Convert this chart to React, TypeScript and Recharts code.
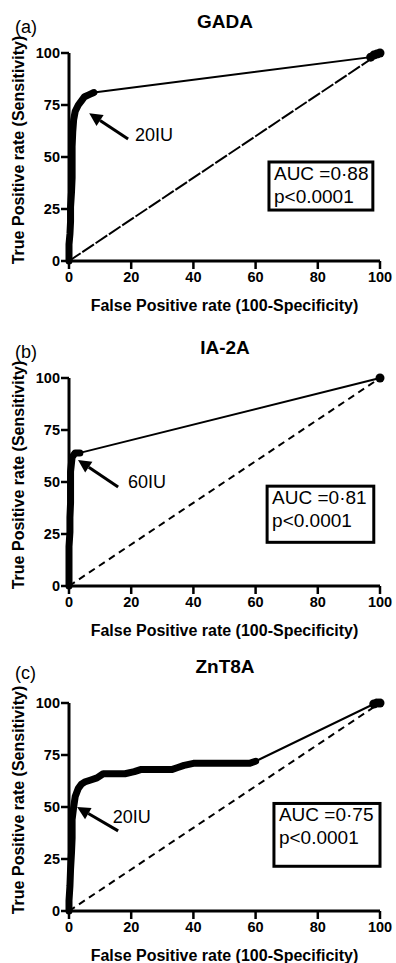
import React from "react";
import {
  ComposedChart,
  Line,
  XAxis,
  YAxis,
  Label,
  ReferenceArea,
  ReferenceLine,
  ReferenceDot,
} from "recharts";

const FONT = '"Liberation Sans", Arial, Helvetica, sans-serif';

const xTicks = [0, 20, 40, 60, 80, 100];
const yTicks = [0, 25, 50, 75, 100];
const diagFpr = [0, 100];
const diagTpr = [0, 100];

// (a) GADA
const gadaRocFpr = [0, 0, 0, 0.3, 0.5, 0.5, 0.8, 1, 1, 1, 1.2, 1.5, 2, 3, 4, 5, 6.5, 8];
const gadaRocTpr = [0, 4, 8, 13, 19, 26, 33, 40, 48, 55, 62, 68, 72, 75, 77, 79, 80, 81];
const gadaTailFpr = [8, 97, 98, 99, 100];
const gadaTailTpr = [81, 98, 99, 99.5, 100];

// (b) IA-2A
const ia2aRocFpr = [0, 0, 0, 0, 0.3, 0.3, 0.5, 0.5, 0.5, 1, 2, 3.5];
const ia2aRocTpr = [0, 6, 12, 19, 26, 33, 40, 47, 55, 62, 64, 64];
const ia2aTailFpr = [3.5, 100];
const ia2aTailTpr = [64, 100];

// (c) ZnT8A
const znt8RocFpr = [0, 0, 0.3, 0.5, 0.8, 1, 1, 1.5, 2, 3, 4, 5, 7, 9, 11, 14, 18, 21, 23, 28, 33, 35, 37, 40, 45, 50, 55, 58, 60];
const znt8RocTpr = [0, 5, 12, 20, 28, 35, 44, 50, 55, 59, 61, 62, 63, 64, 66, 66, 66, 67, 68, 68, 68, 69, 70, 71, 71, 71, 71, 71, 72];
const znt8TailFpr = [60, 98, 99, 100];
const znt8TailTpr = [72, 99.5, 100, 100];

const panelLetters = ["(a)", "(b)", "(c)"];
const panelTitles = ["GADA", "IA-2A", "ZnT8A"];
const cutoffLabels = ["20IU", "60IU", "20IU"];
const aucLabels = ["AUC =0·88", "AUC =0·81", "AUC =0·75"];
const pLabels = ["p<0.0001", "p<0.0001", "p<0.0001"];

const toPoints = (xs: number[], ys: number[]) => xs.map((x, i) => ({ x, y: ys[i] }));

const arrowShape = (p: any) => {
  const { x1, y1, x2, y2 } = p;
  const ang = Math.atan2(y2 - y1, x2 - x1);
  const len = 13;
  const half = 6.5;
  const bx = x2 - len * Math.cos(ang);
  const by = y2 - len * Math.sin(ang);
  const px = -Math.sin(ang) * half;
  const py = Math.cos(ang) * half;
  return (
    <g>
      <line x1={x1} y1={y1} x2={bx} y2={by} stroke="#000" strokeWidth={3} />
      <polygon points={`${x2},${y2} ${bx + px},${by + py} ${bx - px},${by - py}`} fill="#000" />
    </g>
  );
};

type PanelProps = {
  idx: number;
  top: number;
  height: number;
  letterY: number;
  titleY: number;
  rocFpr: number[];
  rocTpr: number[];
  tailFpr: number[];
  tailTpr: number[];
  dash: string;
  arrow: { x: number; y: number }[];
  tag: { x: number; y: number };
  box: { x1: number; x2: number; y1: number; y2: number };
};

function RocPanel({ idx, top, height, letterY, titleY, rocFpr, rocTpr, tailFpr, tailTpr, dash, arrow, tag, box }: PanelProps) {
  const roc = toPoints(rocFpr, rocTpr);
  const tail = toPoints(tailFpr, tailTpr);
  const diag = toPoints(diagFpr, diagTpr);
  const lastX = tailFpr[tailFpr.length - 1];
  // plot area: left 69, right 380, top 53, bottom 261
  const bottomMargin = height - 261 - 50;

  return (
    <div style={{ position: "absolute", left: 0, top, width: 396, height }}>
      <ComposedChart width={396} height={height} margin={{ top: 53, right: 16, bottom: bottomMargin, left: 12 }}>
        <XAxis
          type="number"
          dataKey="x"
          domain={[0, 100]}
          ticks={xTicks}
          interval={0}
          height={50}
          axisLine={{ stroke: "#000", strokeWidth: 3 }}
          tickLine={{ stroke: "#000", strokeWidth: 2.5 }}
          tickSize={8}
          tickMargin={3}
          tick={{ fill: "#000", fontSize: 14.5, fontWeight: "bold", fontFamily: FONT }}
        >
          <Label
            value="False Positive rate (100-Specificity)"
            position="insideBottom"
            offset={0}
            style={{ fill: "#000", fontSize: 16, fontWeight: "bold", fontFamily: FONT }}
          />
        </XAxis>
        <YAxis
          type="number"
          domain={[0, 100]}
          ticks={yTicks}
          interval={0}
          width={57}
          axisLine={{ stroke: "#000", strokeWidth: 3 }}
          tickLine={{ stroke: "#000", strokeWidth: 2.5 }}
          tickSize={8}
          tickMargin={1}
          tick={{ fill: "#000", fontSize: 14.5, fontWeight: "bold", fontFamily: FONT }}
        >
          <Label
            content={(p: any) => {
              const vb = p.viewBox;
              const cx = 18;
              const cy = vb.y + vb.height / 2 - 7;
              return (
                <text
                  x={cx}
                  y={cy}
                  transform={`rotate(-90, ${cx}, ${cy})`}
                  textAnchor="middle"
                  dominantBaseline="central"
                  style={{ fill: "#000", fontSize: 16, fontWeight: "bold", fontFamily: FONT }}
                >
                  True Positive rate (Sensitivity)
                </text>
              );
            }}
          />
        </YAxis>
        <Line
          data={diag}
          dataKey="y"
          stroke="#000"
          strokeWidth={2}
          strokeDasharray={dash}
          dot={false}
          isAnimationActive={false}
        />
        <Line
          data={tail}
          dataKey="y"
          stroke="#000"
          strokeWidth={2}
          dot={(d: any) =>
            d.payload.x >= lastX - 3 ? (
              <circle key={d.index} cx={d.cx} cy={d.cy} r={4.5} fill="#000" />
            ) : (
              <g key={d.index} />
            )
          }
          isAnimationActive={false}
        />
        <Line
          data={roc}
          dataKey="y"
          stroke="#000"
          strokeWidth={7}
          strokeLinejoin="round"
          strokeLinecap="round"
          dot={false}
          isAnimationActive={false}
        />
        <ReferenceLine segment={arrow} shape={arrowShape} />
        <ReferenceDot
          x={tag.x}
          y={tag.y}
          r={0}
          shape={(p: any) => (
            <text
              x={p.cx}
              y={p.cy}
              dominantBaseline="central"
              style={{ fill: "#000", fontSize: 18, fontFamily: FONT }}
            >
              {cutoffLabels[idx]}
            </text>
          )}
        />
        <ReferenceArea
          x1={box.x1}
          x2={box.x2}
          y1={box.y1}
          y2={box.y2}
          shape={(p: any) => (
            <g>
              <rect x={p.x} y={p.y} width={p.width} height={p.height} fill="#fff" stroke="#000" strokeWidth={3} />
              <text x={p.x + 5} y={p.y + 18} style={{ fill: "#000", fontSize: 19, fontFamily: FONT }}>
                {aucLabels[idx]}
              </text>
              <text x={p.x + 5} y={p.y + 41} style={{ fill: "#000", fontSize: 19, fontFamily: FONT }}>
                {pLabels[idx]}
              </text>
            </g>
          )}
        />
      </ComposedChart>
      <div
        style={{
          position: "absolute",
          left: 15,
          top: letterY - 9,
          fontFamily: FONT,
          fontSize: 18,
          lineHeight: "18px",
        }}
      >
        {panelLetters[idx]}
      </div>
      <div
        style={{
          position: "absolute",
          left: 125,
          width: 200,
          top: titleY - 10,
          textAlign: "center",
          fontFamily: FONT,
          fontSize: 19,
          fontWeight: "bold",
          lineHeight: "20px",
        }}
      >
        {panelTitles[idx]}
      </div>
    </div>
  );
}

export default function App() {
  return (
    <div style={{ position: "absolute", left: 0, top: 0, width: 396, height: 963, overflow: "hidden", background: "#fff" }}>
      <style>{`html, body { margin: 0; padding: 0; overflow: hidden; }`}</style>
      <RocPanel
        idx={0}
        top={0}
        height={318}
        letterY={27}
        titleY={22}
        rocFpr={gadaRocFpr}
        rocTpr={gadaRocTpr}
        tailFpr={gadaTailFpr}
        tailTpr={gadaTailTpr}
        dash="14 2"
        arrow={[{ x: 19, y: 58.7 }, { x: 6.5, y: 71 }]}
        tag={{ x: 21.2, y: 60.6 }}
        box={{ x1: 64.3, x2: 97.7, y1: 24.5, y2: 47.6 }}
      />
      <RocPanel
        idx={1}
        top={325}
        height={318}
        letterY={27}
        titleY={23}
        rocFpr={ia2aRocFpr}
        rocTpr={ia2aRocTpr}
        tailFpr={ia2aTailFpr}
        tailTpr={ia2aTailTpr}
        dash="7 5"
        arrow={[{ x: 15.8, y: 47.6 }, { x: 2.9, y: 60.6 }]}
        tag={{ x: 19, y: 50 }}
        box={{ x1: 63.7, x2: 98, y1: 21, y2: 48 }}
      />
      <RocPanel
        idx={2}
        top={650}
        height={313}
        letterY={23}
        titleY={17}
        rocFpr={znt8RocFpr}
        rocTpr={znt8RocTpr}
        tailFpr={znt8TailFpr}
        tailTpr={znt8TailTpr}
        dash="7 5"
        arrow={[{ x: 15.8, y: 38.5 }, { x: 2.6, y: 50 }]}
        tag={{ x: 14.1, y: 45 }}
        box={{ x1: 65.9, x2: 100, y1: 21.5, y2: 51.7 }}
      />
    </div>
  );
}
